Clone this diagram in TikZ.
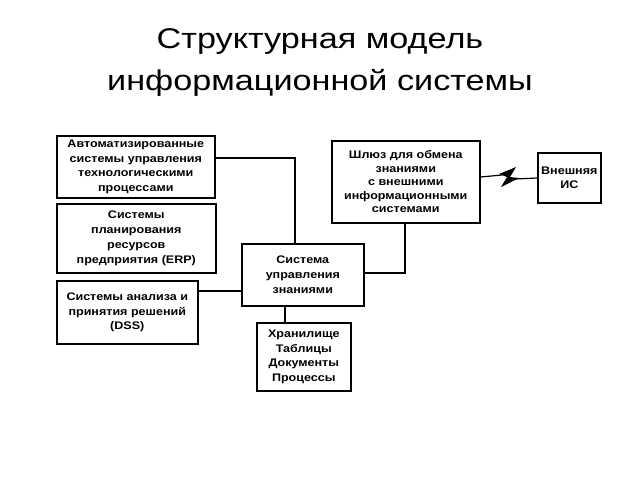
\documentclass[tikz,border=0pt]{standalone}
\usepackage{fontspec}
\setmainfont{Liberation Sans}
\newfontfamily\widefont[FakeStretch=1.2]{Liberation Sans}
\newfontfamily\boxfont[FakeStretch=1.14]{Liberation Sans}
\begin{document}
\begin{tikzpicture}[x=1pt,y=-1pt,
  box/.style={draw=black,line width=1.6pt,rectangle,anchor=north west,inner sep=1pt,
    align=center,font=\boxfont\bfseries\fontsize{11}{14.8}\selectfont},
  titletext/.style={font=\widefont\fontsize{28.5}{42}\selectfont,anchor=base,inner sep=0pt},
  link/.style={line width=1.6pt,line join=miter}]
\useasboundingbox (0,0) rectangle (640,480);
\node[titletext] (title1) at (320,48) {Структурная модель};
\node[titletext] (title2) at (320,90) {информационной системы};
\node[box,minimum width=158pt,minimum height=62pt] (b1) at (56,135)
  {Автоматизированные\\системы управления\\технологическими\\процессами};
\node[box,minimum width=159pt,minimum height=69pt] (b2) at (56,203)
  {Системы\\планирования\\ресурсов\\предприятия (ERP)};
\node[box,minimum width=141pt,minimum height=63pt] (b3) at (56,280)
  {Системы анализа и\\принятия решений\\(DSS)};
\node[box,minimum width=122pt,minimum height=62pt] (c) at (241,243)
  {Система\\управления\\знаниями};
\node[box,minimum width=94pt,minimum height=68pt] (st) at (256,322)
  {Хранилище\\Таблицы\\Документы\\Процессы};
\node[box,minimum width=148pt,minimum height=82pt,font=\boxfont\bfseries\fontsize{11}{13.5}\selectfont] (gw) at (331,140)
  {Шлюз для обмена\\знаниями\\с внешними\\информационными\\системами};
\node[box,minimum width=63pt,minimum height=50pt] (ex) at (537,152)
  {Внешняя\\ИС};
\coordinate (k1) at (295,158);
\coordinate (k2) at (0,291);
\coordinate (k3) at (405,273);
\coordinate (k4) at (285,0);
\coordinate (k5) at (502,175);
\coordinate (k6) at (515,179);
\draw[link] (b1.east|-k1) -- (k1) -- (k1|-c.north);
\draw[link] (b3.east|-k2) -- (c.west|-k2);
\draw[link] (c.east|-k3) -- (k3) -- (k3|-gw.south);
\draw[link] (k4|-c.south) -- (k4|-st.north);
\draw[line width=1.2pt] (gw.east|-0,177) -- (k5);
\draw[line width=1.2pt] (k6) -- (ex.west|-0,178);
\fill (499,174) -- (516,167) -- (510,177) -- (519,178) -- (501,187) -- (507,177) -- cycle;
\end{tikzpicture}
\end{document}
